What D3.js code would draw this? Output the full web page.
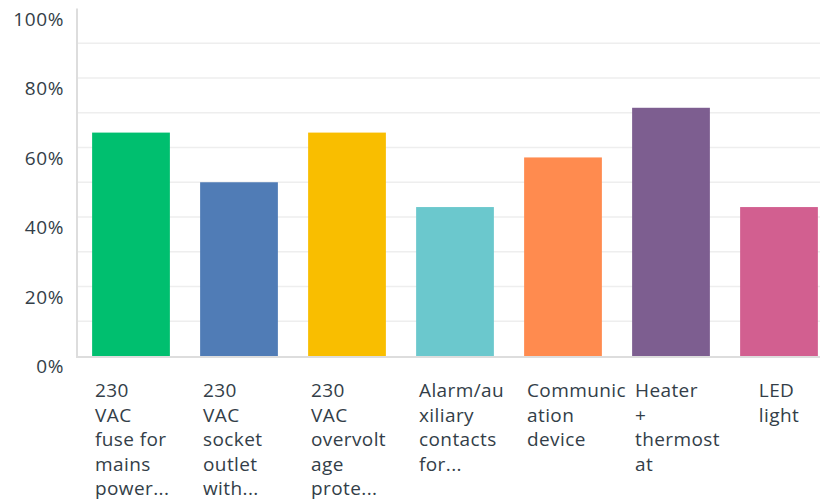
<!DOCTYPE html>
<html>
<head>
<meta charset="utf-8">
<script src="https://cdn.jsdelivr.net/npm/d3@7"></script>
<style>
  body { margin: 0; background: #fff; }
  svg { display: block; font-family: "Open Sans", sans-serif; }
  .tick-label { font-size: 19px; fill: #333e48; letter-spacing: 0.6px; }
  .cat-label { font-size: 19px; fill: #333e48; letter-spacing: 0.4px; }
</style>
</head>
<body>
<div id="chart"></div>
<script>
// answer options, already wrapped the way the picture shows them
var categories = ['fuse', 'socket', 'overvoltage', 'alarm', 'comm', 'heater', 'led'];
var categoryLines = [
  ['230', 'VAC', 'fuse for', 'mains', 'power...'],
  ['230', 'VAC', 'socket', 'outlet', 'with...'],
  ['230', 'VAC', 'overvolt', 'age', 'prote...'],
  ['Alarm/au', 'xiliary', 'contacts', 'for...'],
  ['Communic', 'ation', 'device'],
  ['Heater', '+', 'thermost', 'at'],
  ['LED', 'light']
];
var values = [64.29, 50.0, 64.29, 42.86, 57.14, 71.43, 42.86];
var colors = ['#00bf6f', '#507cb6', '#f9be00', '#6bc8cd', '#ff8b4f', '#7d5e90', '#d25f90'];
var tickValues = [0, 20, 40, 60, 80, 100];
var gridValues = [10, 20, 30, 40, 50, 60, 70, 80, 90];

(function() {
  var W = 820, H = 499;
  var plotLeft = 77, plotTop = 8.5, plotBottom = 356;

  var svg = d3.select('#chart').append('svg')
    .attr('width', W).attr('height', H);

  var x = d3.scaleBand()
    .domain(categories)
    .range([plotLeft, plotLeft + 756])
    .paddingInner(0.28)
    .paddingOuter(0.14);

  var y = d3.scaleLinear().domain([0, 100]).range([plotBottom, plotTop]);

  // grid
  svg.append('g').selectAll('line')
    .data(gridValues)
    .enter().append('line')
      .attr('x1', plotLeft).attr('x2', W)
      .attr('y1', function(d){ return y(d); })
      .attr('y2', function(d){ return y(d); })
      .attr('stroke', '#eeeeee')
      .attr('stroke-width', 1.6);

  // y labels sit a bit below their line
  svg.append('g').selectAll('text')
    .data(tickValues)
    .enter().append('text')
      .attr('class', 'tick-label')
      .attr('x', 64)
      .attr('y', function(d){ return y(d) + 17; })
      .attr('text-anchor', 'end')
      .text(function(d){ return d + '%'; });

  // bars
  svg.append('g').selectAll('rect')
    .data(values)
    .enter().append('rect')
      .attr('x', function(d, i){ return x(categories[i]); })
      .attr('y', function(d){ return y(d); })
      .attr('width', x.bandwidth())
      .attr('height', function(d){ return plotBottom - y(d); })
      .attr('fill', function(d, i){ return colors[i]; });

  // axis lines
  svg.append('line')
    .attr('x1', plotLeft).attr('x2', plotLeft)
    .attr('y1', plotTop).attr('y2', plotBottom + 1)
    .attr('stroke', '#dddddd').attr('stroke-width', 2);
  svg.append('line')
    .attr('x1', plotLeft - 1).attr('x2', W)
    .attr('y1', plotBottom + 1).attr('y2', plotBottom + 1)
    .attr('stroke', '#dddddd').attr('stroke-width', 2);

  // category labels: lines left aligned in a box under the bar
  var cat = svg.append('g').selectAll('text')
    .data(categoryLines)
    .enter().append('text')
      .attr('class', 'cat-label')
      .attr('y', 397);

  cat.selectAll('tspan')
    .data(function(d){ return d; })
    .enter().append('tspan')
      .attr('x', 0)
      .attr('dy', function(d, i){ return i == 0 ? 0 : 24.5; })
      .text(function(d){ return d; });

  cat.each(function(d, i) {
    var w = this.getBBox().width;
    var cx = x(categories[i]) + x.bandwidth() / 2;
    // short labels get centred, the wrapped ones start from a fixed box edge
    var x0 = w < 50 ? cx - w / 2 : cx - 36;
    d3.select(this).selectAll('tspan').attr('x', x0);
  });
})();
</script>
</body>
</html>
